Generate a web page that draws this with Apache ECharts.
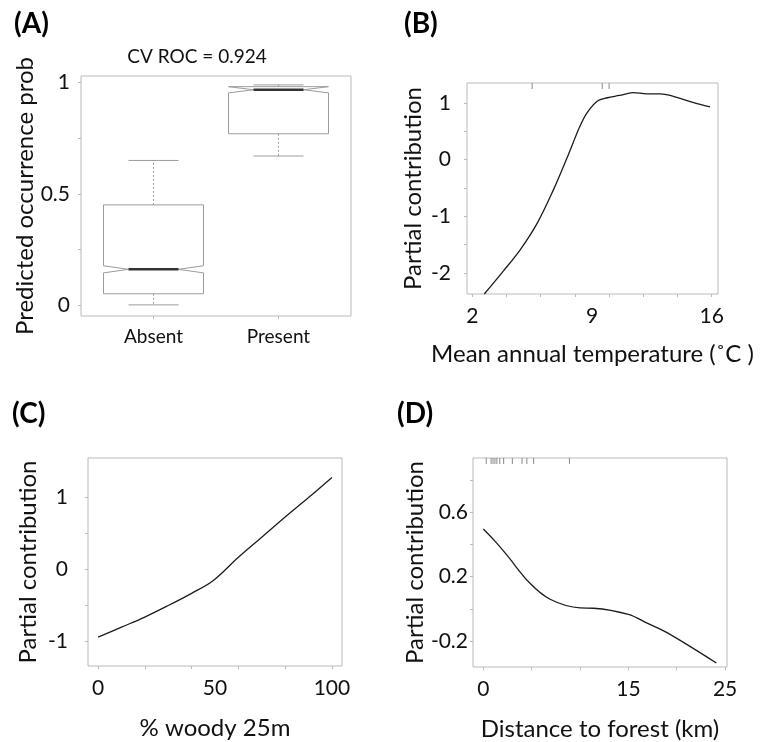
<!DOCTYPE html>
<html>
<head>
<meta charset="utf-8">
<title>Partial contribution plots</title>
<script src="https://cdn.jsdelivr.net/npm/echarts@6/dist/echarts.min.js"></script>
<style>
    html, body { margin: 0; padding: 0; background: #fff; }
    #chart { width: 760px; height: 742px; }
</style>
</head>
<body>
<div id="chart"></div>
<script>
// (A) 箱线图: 最小, 下四分位, 中位数, 上四分位, 最大, 缺口半宽
const groups = ['Absent', 'Present'];
const boxMin = [0.0, 0.67];
const boxQ1 = [0.05, 0.77];
const boxMedian = [0.16, 0.968];
const boxQ3 = [0.45, 0.982];
const boxMax = [0.65, 0.99];
const boxNotch = [0.016, 0.014];
const rocText = 'CV ROC = 0.924';

// (B) 年均温
const tempX = [2.7, 3.8, 4.8, 5.8, 6.75, 7.5, 8.3, 8.7, 9.3, 9.9, 10.6, 11.4, 12.2, 13.0, 13.8, 14.9, 15.9];
const tempY = [-2.37, -1.97, -1.59, -1.12, -0.53, 0.0, 0.59, 0.82, 1.03, 1.09, 1.13, 1.18, 1.16, 1.16, 1.11, 1.01, 0.93];
const tempRug = [5.5, 9.6, 10.0];

// (C) 木本覆盖
const woodyX = [0, 10, 20, 30, 40, 49, 60, 70, 80, 90, 100];
const woodyY = [-0.94, -0.80, -0.66, -0.50, -0.33, -0.16, 0.17, 0.45, 0.73, 1.00, 1.28];

// (D) 距森林距离
const distX = [0, 1.2, 2.4, 4.8, 6.9, 10, 11.4, 15, 17, 19, 24.1];
const distY = [0.495, 0.42, 0.336, 0.16, 0.06, 0.006, 0.004, -0.034, -0.09, -0.147, -0.335];
const distRug = [0.3, 0.8, 1.0, 1.2, 1.4, 1.7, 2.1, 3.0, 4.0, 4.5, 5.2, 8.9];

// 刻度
const ticksA = { yLabels: [0, 0.5, 1], yTicks: [0, 0.25, 0.5, 0.75, 1] };
const ticksB = { xLabels: [2, 9, 16], xTicks: [2, 4, 6, 8, 10, 12, 14, 16], yLabels: [-2, -1, 0, 1], yTicks: [-2, -1.5, -1, -0.5, 0, 0.5, 1] };
const ticksC = { xLabels: [0, 50, 100], xTicks: [0, 20, 40, 60, 80, 100], yLabels: [-1, 0, 1], yTicks: [-1, -0.5, 0, 0.5, 1] };
const ticksD = { xLabels: [0, 15, 25], xTicks: [0, 5, 10, 15, 20, 25], yLabels: [-0.2, 0.2, 0.6], yTicks: [-0.2, 0, 0.2, 0.4, 0.6, 0.8] };

const FONT = 'Lato';
const frameColor = '#b9b9b9';
const inkColor = '#1c1c1c';

function zip(xs, ys) {
    return xs.map((x, i) => [x, ys[i]]);
}

function tickLabels(values, size, margin, formatter) {
    const l = { customValues: values, color: '#111', fontFamily: FONT, fontSize: size, margin: margin };
    if (formatter) l.formatter = formatter;
    return l;
}

function valueAxis(gridIndex, min, max, labels, ticks, opts) {
    return Object.assign({
        type: 'value',
        gridIndex: gridIndex,
        min: min,
        max: max,
        splitLine: { show: false },
        axisLine: { show: false, onZero: false },
        axisTick: { show: true, customValues: ticks, length: 3, lineStyle: { color: frameColor } },
        axisLabel: tickLabels(labels, 21, 12),
        nameLocation: 'middle',
        nameTextStyle: { color: '#111', fontFamily: FONT, fontSize: 24 }
    }, opts || {});
}

// 带缺口的箱子
function renderBox(params, api) {
    const x = api.value(0);
    const lo = api.value(1), q1 = api.value(2), med = api.value(3);
    const q3 = api.value(4), hi = api.value(5), n = api.value(6);
    const cx = api.coord([x, med])[0];
    const half = api.size([0.4, 0])[0];
    const ind = half / 2;
    const y = v => api.coord([x, v])[1];
    const L = cx - half, R = cx + half;
    const grey = { stroke: '#9c9c9c', lineWidth: 1, fill: null };
    const dash = { stroke: '#9c9c9c', lineWidth: 1, lineDash: [2, 2] };
    return {
        type: 'group',
        children: [
            { type: 'line', shape: { x1: cx, y1: y(q3), x2: cx, y2: y(hi) }, style: dash },
            { type: 'line', shape: { x1: cx, y1: y(q1), x2: cx, y2: y(lo) }, style: dash },
            { type: 'line', shape: { x1: cx - ind, y1: y(hi), x2: cx + ind, y2: y(hi) }, style: grey },
            { type: 'line', shape: { x1: cx - ind, y1: y(lo), x2: cx + ind, y2: y(lo) }, style: grey },
            {
                type: 'polygon',
                shape: {
                    points: [
                        [L, y(q1)], [L, y(med - n)], [L + ind, y(med)], [L, y(med + n)], [L, y(q3)],
                        [R, y(q3)], [R, y(med + n)], [R - ind, y(med)], [R, y(med - n)], [R, y(q1)]
                    ]
                },
                style: { stroke: '#9c9c9c', lineWidth: 1, fill: '#fff' }
            },
            { type: 'line', shape: { x1: L + ind, y1: y(med), x2: R - ind, y2: y(med) }, style: { stroke: '#333', lineWidth: 2.5 } }
        ]
    };
}

// 顶部 rug 短线
function renderRug(params, api) {
    const p = api.coord([api.value(0), 0]);
    const top = params.coordSys.y;
    return {
        type: 'line',
        shape: { x1: p[0], y1: top, x2: p[0], y2: top + 6 },
        style: { stroke: '#8a8a8a', lineWidth: 1 }
    };
}

function curve(idx, xs, ys) {
    return {
        type: 'line',
        xAxisIndex: idx,
        yAxisIndex: idx,
        data: zip(xs, ys),
        showSymbol: false,
        smooth: 0.35,
        lineStyle: { color: inkColor, width: 1.3 }
    };
}

function panelLabel(text, x, y) {
    return {
        type: 'text',
        x: x,
        y: y,
        style: { text: text, fontFamily: FONT, fontSize: 28, fontWeight: 'bold', fill: '#000', verticalAlign: 'middle' }
    };
}

const boxData = groups.map((g, i) => [i + 1, boxMin[i], boxQ1[i], boxMedian[i], boxQ3[i], boxMax[i], boxNotch[i]]);

const gridStyle = { show: true, borderColor: frameColor, borderWidth: 1, backgroundColor: '#fff' };

const option = {
    animation: false,
    backgroundColor: '#fff',
    grid: [
        Object.assign({ left: 81, top: 76, width: 270, height: 240 }, gridStyle),
        Object.assign({ left: 467, top: 83, width: 251, height: 211 }, gridStyle),
        Object.assign({ left: 88, top: 458, width: 254, height: 208 }, gridStyle),
        Object.assign({ left: 473, top: 458, width: 254, height: 210 }, gridStyle)
    ],
    xAxis: [
        valueAxis(0, 0.42, 2.58, [1, 2], [1, 2], {
            axisLabel: tickLabels([1, 2], 19, 11, v => groups[Math.round(v) - 1])
        }),
        valueAxis(1, 1.69, 16.37, ticksB.xLabels, ticksB.xTicks, { name: 'Mean annual temperature (˚C )', nameGap: 48 }),
        valueAxis(2, -4.3, 104.3, ticksC.xLabels, ticksC.xTicks, { name: '% woody 25m', nameGap: 50 }),
        valueAxis(3, -1.07, 25.2, ticksD.xLabels, ticksD.xTicks, { name: 'Distance to forest (km)', nameGap: 50 })
    ],
    yAxis: [
        valueAxis(0, -0.05, 1.03, ticksA.yLabels, ticksA.yTicks, { name: 'Predicted occurrence prob', nameGap: 37, axisLabel: tickLabels(ticksA.yLabels, 21, 11) }),
        valueAxis(1, -2.37, 1.35, ticksB.yLabels, ticksB.yTicks, { name: 'Partial contribution', nameGap: 42, axisLabel: tickLabels(ticksB.yLabels, 21, 16) }),
        valueAxis(2, -1.34, 1.55, ticksC.yLabels, ticksC.yTicks, { name: 'Partial contribution', nameGap: 48, axisLabel: tickLabels(ticksC.yLabels, 21, 20) }),
        valueAxis(3, -0.36, 0.935, ticksD.yLabels, ticksD.yTicks, { name: 'Partial contribution', nameGap: 43, axisLabel: tickLabels(ticksD.yLabels, 21, 5) })
    ],
    series: [
        { type: 'custom', xAxisIndex: 0, yAxisIndex: 0, data: boxData, renderItem: renderBox },
        curve(1, tempX, tempY),
        { type: 'custom', xAxisIndex: 1, yAxisIndex: 1, data: tempRug.map(v => [v]), renderItem: renderRug },
        curve(2, woodyX, woodyY),
        curve(3, distX, distY),
        { type: 'custom', xAxisIndex: 3, yAxisIndex: 3, data: distRug.map(v => [v]), renderItem: renderRug }
    ],
    graphic: [
        panelLabel('(A)', 14, 24),
        panelLabel('(B)', 404, 24),
        panelLabel('(C)', 12, 414),
        panelLabel('(D)', 397, 414),
        {
            type: 'text',
            x: 197,
            y: 57,
            style: { text: rocText, fontFamily: FONT, fontSize: 19, fill: '#111', align: 'center', verticalAlign: 'middle' }
        }
    ]
};

const chart = echarts.init(document.getElementById('chart'));
chart.setOption(option);
</script>
</body>
</html>
